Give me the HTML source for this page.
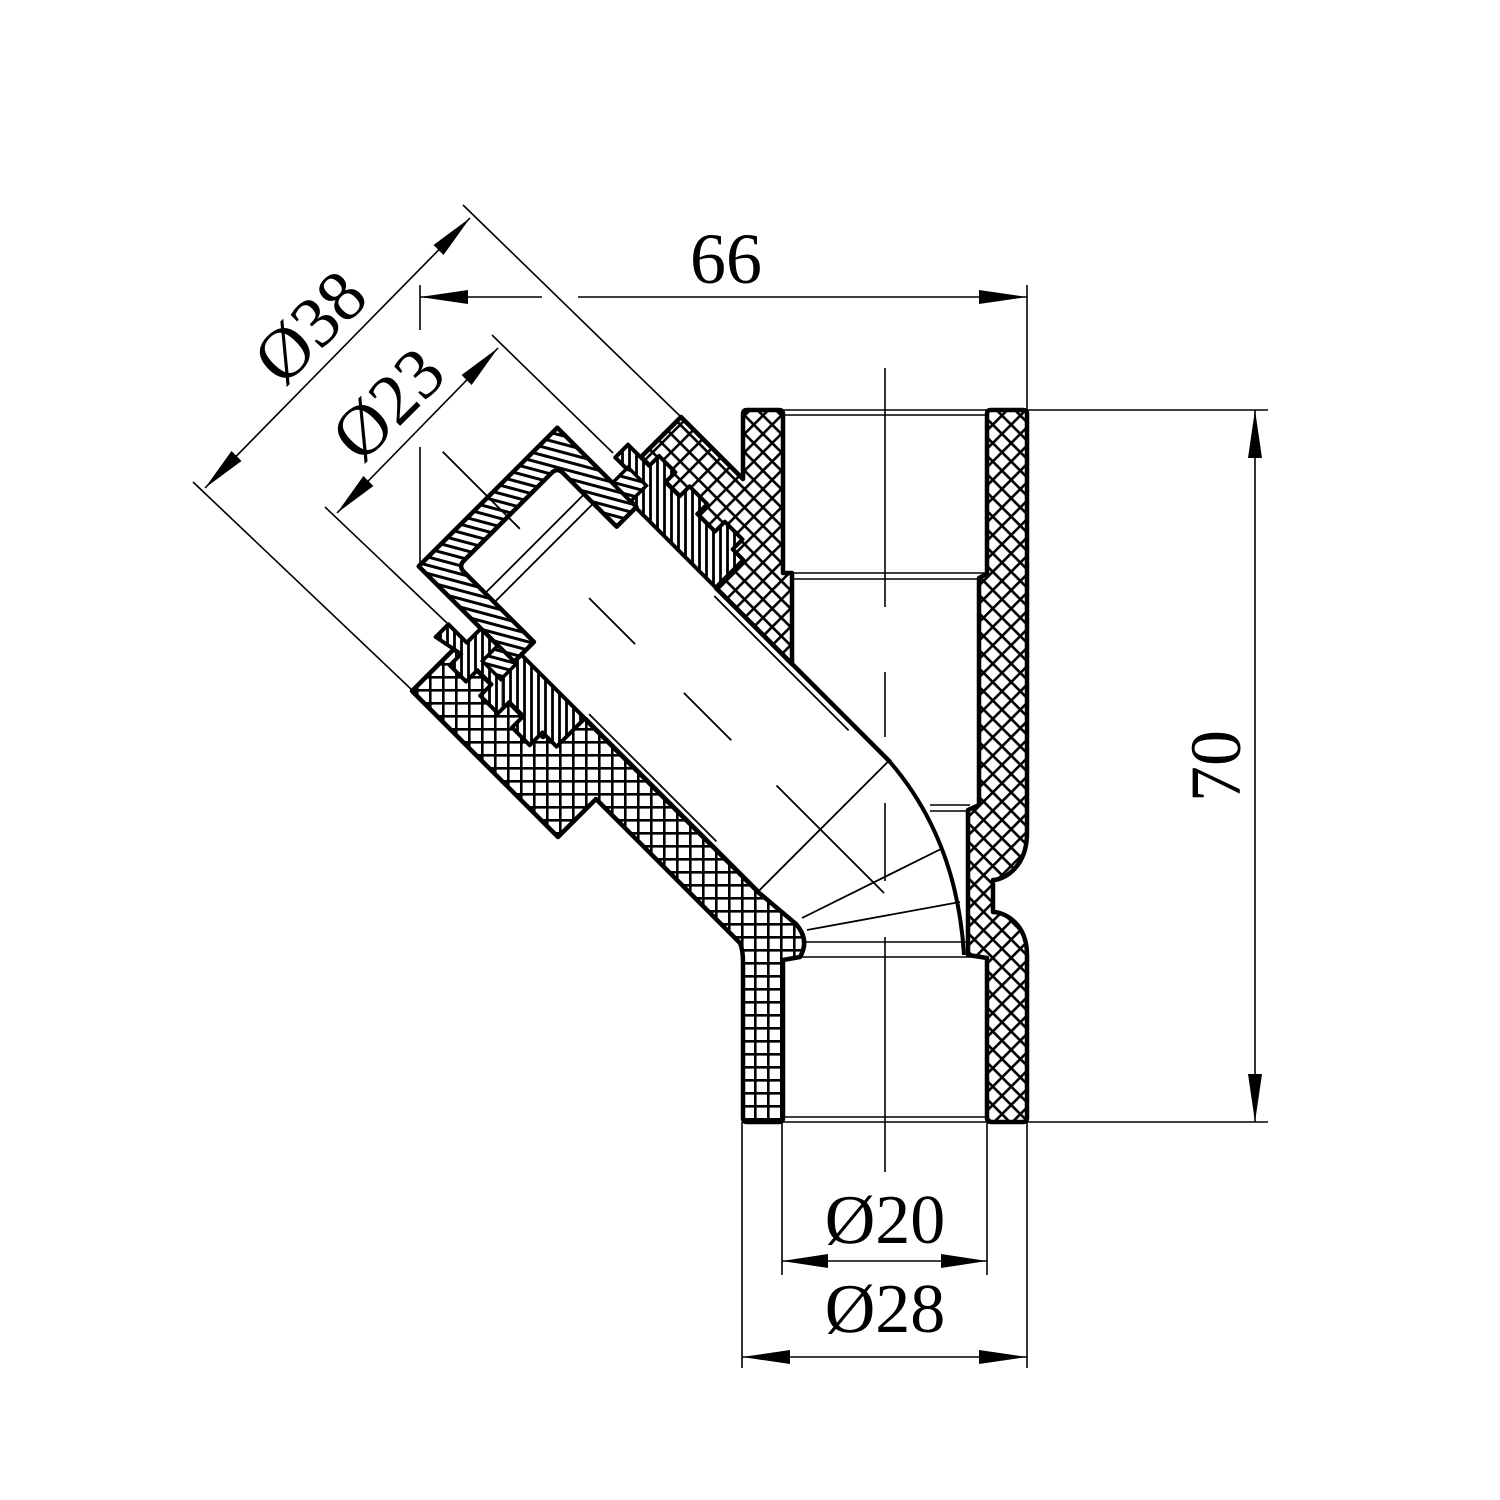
<!DOCTYPE html>
<html><head><meta charset="utf-8">
<style>
html,body{margin:0;padding:0;background:#fff;}
svg{display:block;}
text{font-family:"Liberation Serif",serif;fill:#000;}
</style></head>
<body>
<svg width="1500" height="1500" viewBox="0 0 1500 1500" xmlns="http://www.w3.org/2000/svg">
<defs>
  <pattern id="grid" patternUnits="userSpaceOnUse" width="13" height="13">
    <rect width="13" height="13" fill="#fff"/>
    <path d="M0 1.3H13M1.3 0V13" stroke="#000" stroke-width="2.6"/>
  </pattern>
  <pattern id="diam" patternUnits="userSpaceOnUse" width="13" height="13" patternTransform="rotate(45)">
    <rect width="13" height="13" fill="#fff"/>
    <path d="M0 1.3H13M1.3 0V13" stroke="#000" stroke-width="2.6"/>
  </pattern>
  <pattern id="capH" patternUnits="userSpaceOnUse" width="8" height="8" patternTransform="rotate(-30)">
    <rect width="8" height="8" fill="#fff"/>
    <path d="M0 1.5H8" stroke="#000" stroke-width="3"/>
  </pattern>
  <pattern id="insH" patternUnits="userSpaceOnUse" width="7" height="7" patternTransform="rotate(-45)">
    <rect width="7" height="7" fill="#fff"/>
    <path d="M1.5 0V7" stroke="#000" stroke-width="2.8"/>
  </pattern>
</defs>

<g fill="none" stroke="#000" stroke-width="1.6">
  <line x1="420" y1="297" x2="542" y2="297"/>
  <line x1="578" y1="297" x2="1027" y2="297"/>
  <line x1="420" y1="285" x2="420" y2="330"/>
  <line x1="420" y1="447" x2="420" y2="563"/>
  <line x1="1027" y1="285" x2="1027" y2="410"/>
  <line x1="1255" y1="410" x2="1255" y2="1122"/>
  <line x1="1027" y1="410" x2="1268" y2="410"/>
  <line x1="1027" y1="1122" x2="1268" y2="1122"/>
  <line x1="782" y1="1122" x2="782" y2="1275"/>
  <line x1="987" y1="1122" x2="987" y2="1275"/>
  <line x1="782" y1="1261" x2="987" y2="1261"/>
  <line x1="742" y1="1122" x2="742" y2="1368"/>
  <line x1="1027" y1="1122" x2="1027" y2="1368"/>
  <line x1="742" y1="1357" x2="1027" y2="1357"/>
  <line x1="470" y1="218" x2="205" y2="488"/>
  <line x1="463" y1="205" x2="680" y2="416"/>
  <line x1="193" y1="482" x2="412" y2="690"/>
  <line x1="498" y1="348" x2="337" y2="513"/>
  <line x1="492" y1="335" x2="613" y2="453"/>
  <line x1="325" y1="507" x2="447" y2="623"/>
  <line x1="885" y1="368" x2="885" y2="607"/>
  <line x1="885" y1="672" x2="885" y2="737"/>
  <line x1="885" y1="803" x2="885" y2="881"/>
  <line x1="885" y1="937" x2="885" y2="1172"/>
</g>

<g fill="#000">
  <polygon points="420,297 468,290 468,304"/>
  <polygon points="1027,297 979,290 979,304"/>
  <polygon points="1255,410 1248,458 1262,458"/>
  <polygon points="1255,1122 1248,1074 1262,1074"/>
  <polygon points="782,1261 828,1254 828,1268"/>
  <polygon points="987,1261 941,1254 941,1268"/>
  <polygon points="742,1357 790,1350 790,1364"/>
  <polygon points="1027,1357 979,1350 979,1364"/>
  <polygon points="470,218 443.5,255 433.5,245"/>
  <polygon points="205,488 241.5,461 231.5,451"/>
  <polygon points="498,348 471.6,385 461.6,375"/>
  <polygon points="337,513 373.4,486 363.4,476"/>
</g>

<text x="726" y="283" font-size="72" text-anchor="middle">66</text>
<text transform="translate(1240,766) rotate(-90)" font-size="72" text-anchor="middle">70</text>
<text x="885" y="1243" font-size="70" text-anchor="middle">Ø20</text>
<text x="885" y="1332" font-size="70" text-anchor="middle">Ø28</text>
<text transform="translate(327,344) rotate(-45)" font-size="72" text-anchor="middle">Ø38</text>
<text transform="translate(405,421) rotate(-45)" font-size="72" text-anchor="middle">Ø23</text>

<g fill="none" stroke="#000" stroke-width="1.6">
  <line x1="783" y1="410" x2="987" y2="410"/>
  <line x1="783" y1="415" x2="987" y2="415"/>
  <line x1="783" y1="573" x2="987" y2="573"/>
  <line x1="792" y1="579" x2="979" y2="579"/>
  <line x1="783" y1="1117" x2="987" y2="1117"/>
  <line x1="783" y1="1122" x2="987" y2="1122"/>
  <line x1="803" y1="942" x2="966" y2="942"/>
  <line x1="800" y1="957" x2="987" y2="957"/>
  <line x1="930" y1="805" x2="970" y2="805"/>
  <line x1="930" y1="811" x2="970" y2="811"/>
  <line x1="979" y1="579" x2="979" y2="805"/>
</g>

<path d="M987,414 Q987,410 991,410 L1023,410 Q1027,410 1027,414 L1027,833 C1027,868 1003,880 993,880 L993,912 C1003,912 1027,922 1027,955 L1027,1118 Q1027,1122 1023,1122 L991,1122 Q987,1122 987,1118 L987,958 L968,955 L968,810 L979,805 L979,578 L987,574 Z" fill="url(#diam)" stroke="#000" stroke-width="4.5" stroke-linejoin="round"/>

<path d="M681,417 L743,479 L743,414 Q743,410 747,410 L779,410 Q783,410 783,414 L783,573 L792,573 L792,664 L716,588 L743,560 L641,457 Z" fill="url(#diam)" stroke="#000" stroke-width="4.5" stroke-linejoin="round"/>

<path d="M455,648 L412,691 L558,837 L596,799 L740,943 Q743,950 743,962 L743,1118 Q743,1122 747,1122 L779,1122 Q783,1122 783,1118 L783,960 L800,957 Q810,940 796,924 L758,892 L573,707 L543,737 Z" fill="url(#grid)" stroke="#000" stroke-width="4.5" stroke-linejoin="round"/>

<g transform="translate(488,497) rotate(45)">
  <path d="M62,-136 L62,-118 L88,-118 L88,-97 L225,-97 L225,-136 L210,-136 L210,-150 L185,-150 L185,-136 L160,-136 L160,-150 L135,-150 L135,-136 L115,-136 L115,-150 L92,-150 L92,-136 Z" fill="url(#insH)" stroke="#000" stroke-width="4" stroke-linejoin="round"/>
  <path d="M62,136 L62,118 L88,118 L88,88 L225,88 L225,128 L205,128 L205,146 L180,146 L180,130 L160,130 L160,146 L135,146 L135,130 L115,130 L115,146 L92,146 L92,130 Z" fill="url(#insH)" stroke="#000" stroke-width="4" stroke-linejoin="round"/>
  <path d="M0,-98 L112,-98 L112,-70 L36,-70 Q28,-70 28,-62 L28,62 Q28,70 36,70 L135,70 L135,98 L0,98 Z" fill="url(#capH)" stroke="#000" stroke-width="4.5" stroke-linejoin="round"/>
  <rect x="78" y="-120" width="26" height="22" fill="url(#capH)" stroke="#000" stroke-width="3.5"/>
  <rect x="112" y="98" width="26" height="22" fill="url(#capH)" stroke="#000" stroke-width="3.5"/>
  <g fill="none" stroke="#000">
    <line x1="66" y1="-70" x2="66" y2="70" stroke-width="1.8"/>
    <line x1="79" y1="-70" x2="79" y2="70" stroke-width="1.8"/>
    <line x1="225" y1="-97" x2="472" y2="-97" stroke-width="4.5"/>
    <line x1="230" y1="-90" x2="420" y2="-90" stroke-width="1.8"/>
    <line x1="225" y1="88" x2="470" y2="88" stroke-width="4.5"/>
    <line x1="225" y1="82" x2="405" y2="82" stroke-width="1.8"/>
    <line x1="470" y1="-97" x2="470" y2="88" stroke-width="1.8"/>
    <line x1="-64" y1="0" x2="45" y2="0" stroke-width="1.8"/>
    <line x1="143" y1="0" x2="208" y2="0" stroke-width="1.8"/>
    <line x1="277" y1="0" x2="344" y2="0" stroke-width="1.8"/>
    <line x1="408" y1="0" x2="560" y2="0" stroke-width="1.8"/>
  </g>
</g>

<g fill="none" stroke="#000">
  <path d="M890,762 Q957,840 964,955" stroke-width="4"/>
  <line x1="802" y1="918" x2="943" y2="848" stroke-width="1.8"/>
  <line x1="807" y1="930" x2="960" y2="902" stroke-width="1.8"/>
</g>
</svg>
</body></html>
